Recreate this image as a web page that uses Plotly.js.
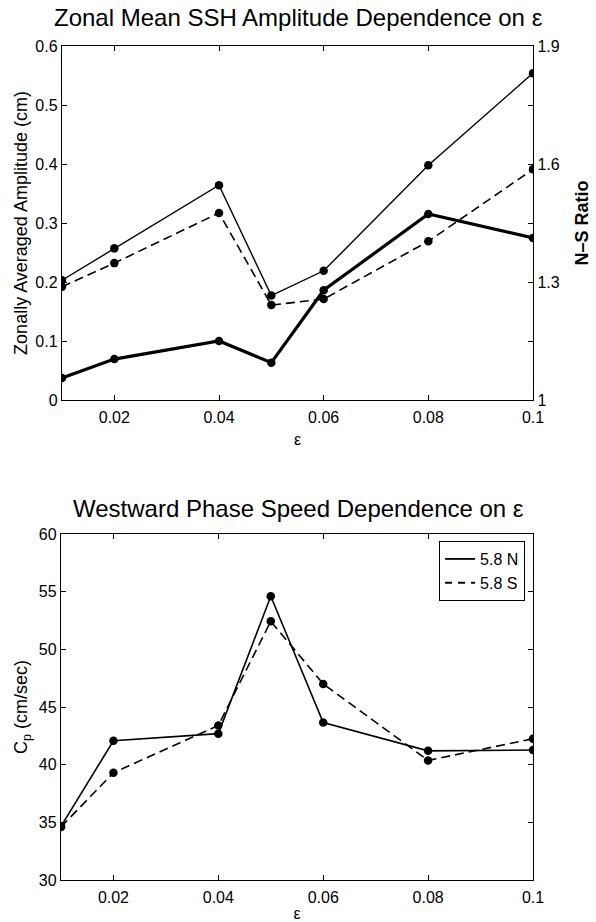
<!DOCTYPE html>
<html>
<head>
<meta charset="utf-8">
<script src="https://cdn.plot.ly/plotly-3.0.1.min.js"></script>
<style>html,body{margin:0;padding:0;background:#fff;}#chart{width:596px;height:922px;}</style>
</head>
<body>
<div id="chart"></div>
<script>
// ---- data ----
const eps = [0.01, 0.02, 0.04, 0.05, 0.06, 0.08, 0.1];
const ampN = [0.203, 0.257, 0.364, 0.177, 0.219, 0.398, 0.554];
const ampS = [0.192, 0.232, 0.317, 0.161, 0.171, 0.269, 0.391];
const nsRatio = [1.056, 1.104, 1.150, 1.095, 1.279, 1.473, 1.412];
const cpN = [34.66, 42.07, 42.69, 54.60, 43.65, 41.20, 41.27];
const cpS = [34.60, 39.30, 43.40, 52.43, 47.00, 40.37, 42.25];
const seriesNames = ['5.8 N', '5.8 S'];
const xTickVals = [0.02, 0.04, 0.06, 0.08, 0.1];
const xTickText = ['0.02', '0.04', '0.06', '0.08', '0.1'];
const ampTickVals = [0, 0.1, 0.2, 0.3, 0.4, 0.5, 0.6];
const ampTickText = ['0', '0.1', '0.2', '0.3', '0.4', '0.5', '0.6'];
const ratioTickVals = [1, 1.3, 1.6, 1.9];
const ratioTickText = ['1', '1.3', '1.6', '1.9'];
const cpTickVals = [30, 35, 40, 45, 50, 55, 60];
const cpTickText = ['30', '35', '40', '45', '50', '55', '60'];
const titleTop = 'Zonal Mean SSH Amplitude Dependence on ε';
const titleBottom = 'Westward Phase Speed Dependence on ε';

const FONT = 'Liberation Sans, Arial, Helvetica, sans-serif';
const mk = {color: '#000', size: 8.5};
const dashed = '9px,5px';

const traces = [
  {x: eps, y: ampN, xaxis: 'x', yaxis: 'y', mode: 'lines+markers', showlegend: false,
   line: {color: '#000', width: 1.4}, marker: mk, name: 'N amplitude'},
  {x: eps, y: ampS, xaxis: 'x', yaxis: 'y', mode: 'lines+markers', showlegend: false,
   line: {color: '#000', width: 1.6, dash: dashed}, marker: mk, name: 'S amplitude'},
  {x: eps, y: nsRatio, xaxis: 'x', yaxis: 'y2', mode: 'lines+markers', showlegend: false,
   line: {color: '#000', width: 3.2}, marker: mk, name: 'N-S ratio'},
  {x: eps, y: cpN, xaxis: 'x2', yaxis: 'y3', mode: 'lines+markers', showlegend: false,
   line: {color: '#000', width: 1.6}, marker: mk, name: seriesNames[0]},
  {x: eps, y: cpS, xaxis: 'x2', yaxis: 'y3', mode: 'lines+markers', showlegend: false,
   line: {color: '#000', width: 1.6, dash: dashed}, marker: mk, name: seriesNames[1]},
  // legend entries (line style only, as in the reference legend)
  {x: [null], y: [null], xaxis: 'x2', yaxis: 'y3', mode: 'lines', name: seriesNames[0],
   line: {color: '#000', width: 1.8}},
  {x: [null], y: [null], xaxis: 'x2', yaxis: 'y3', mode: 'lines', name: seriesNames[1],
   line: {color: '#000', width: 1.8, dash: '7px,6px'}}
];

const axBase = {
  showline: true, linecolor: '#000', linewidth: 1.2, ticks: 'inside', ticklen: 5,
  tickcolor: '#000', tickwidth: 1, showgrid: false, zeroline: false,
  tickfont: {family: FONT, size: 16, color: '#000'}
};

const layout = {
  width: 596, height: 922,
  margin: {l: 0, r: 0, t: 0, b: 0},
  paper_bgcolor: '#fff', plot_bgcolor: '#fff',
  font: {family: FONT, color: '#000'},
  showlegend: true,
  legend: {x: 0.881, y: 0.4132, xanchor: 'right', yanchor: 'top',
           bgcolor: '#fff', bordercolor: '#000', borderwidth: 1,
           font: {family: FONT, size: 16, color: '#000'}, tracegroupgap: 0},
  xaxis: Object.assign({}, axBase, {
    domain: [62/596, 533/596], range: [0.01, 0.1], mirror: 'ticks', anchor: 'y',
    tickmode: 'array', tickvals: xTickVals, ticktext: xTickText, ticklabelstandoff: 3,
    title: {text: 'ε', font: {family: FONT, size: 16}, standoff: 8}
  }),
  yaxis: Object.assign({}, axBase, {
    domain: [1 - 400/922, 1 - 46/922], range: [0, 0.6], mirror: 'ticks', anchor: 'x',
    tickmode: 'array', tickvals: ampTickVals, ticktext: ampTickText,
    title: {text: 'Zonally Averaged Amplitude (cm)', font: {family: FONT, size: 18}, standoff: 3}
  }),
  yaxis2: Object.assign({}, axBase, {
    overlaying: 'y', side: 'right', anchor: 'x', range: [1, 1.9],
    tickmode: 'array', tickvals: ratioTickVals, ticktext: ratioTickText,
    title: {text: '<b>N–S Ratio</b>', font: {family: FONT, size: 18}, standoff: 16}
  }),
  xaxis2: Object.assign({}, axBase, {
    domain: [61/596, 533/596], range: [0.01, 0.1], mirror: 'ticks', anchor: 'y3',
    tickmode: 'array', tickvals: xTickVals, ticktext: xTickText, ticklabelstandoff: 3,
    title: {text: 'ε', font: {family: FONT, size: 16}, standoff: 8}
  }),
  yaxis3: Object.assign({}, axBase, {
    domain: [1 - 880/922, 1 - 534/922], range: [30, 60], mirror: 'ticks', anchor: 'x2',
    tickmode: 'array', tickvals: cpTickVals, ticktext: cpTickText,
    title: {text: 'C<sub>p</sub> (cm/sec)', font: {family: FONT, size: 18}, standoff: 6}
  }),
  annotations: [
    {text: titleTop, xref: 'paper', yref: 'paper', x: 0.5, y: 1 - 18/922,
     xanchor: 'center', yanchor: 'middle', showarrow: false,
     font: {family: FONT, size: 24, color: '#000'}},
    {text: titleBottom, xref: 'paper', yref: 'paper', x: 0.5, y: 1 - 508/922,
     xanchor: 'center', yanchor: 'middle', showarrow: false,
     font: {family: FONT, size: 24, color: '#000'}}
  ]
};

Plotly.newPlot('chart', traces, layout, {displayModeBar: false, staticPlot: true});
</script>
</body>
</html>
